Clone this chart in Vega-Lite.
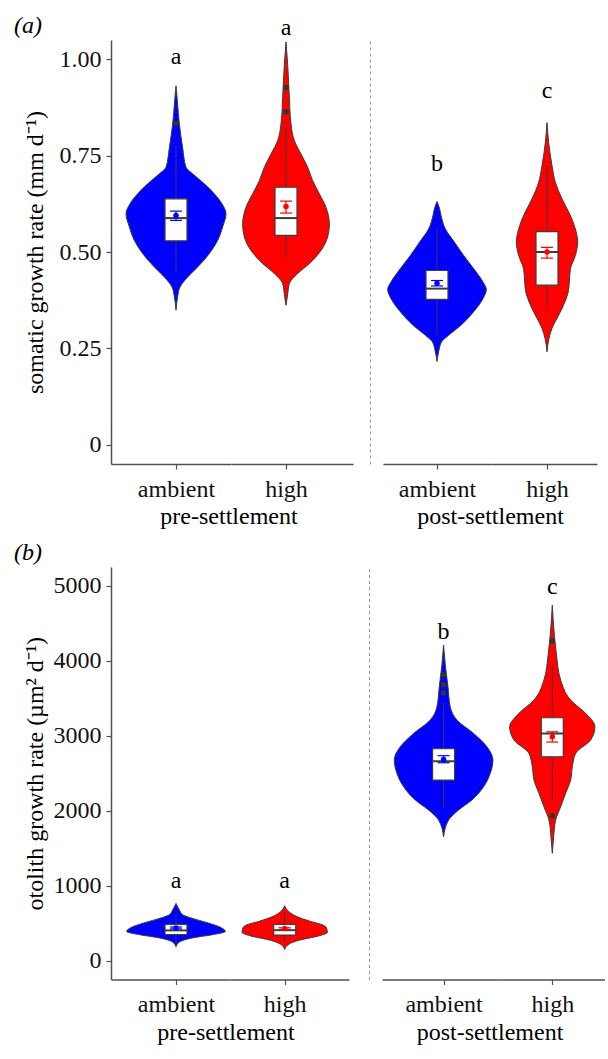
{
"$schema":"https://vega.github.io/schema/vega-lite/v6.json",
"padding":{"left":14,"top":13,"right":0,"bottom":0},
"data":{"values":[
{"p":"a","ph":"pre","g":"ambient","v":0.349,"d":0},
{"p":"a","ph":"pre","g":"ambient","v":0.384,"d":0.033},
{"p":"a","ph":"pre","g":"ambient","v":0.409,"d":0.08},
{"p":"a","ph":"pre","g":"ambient","v":0.435,"d":0.233},
{"p":"a","ph":"pre","g":"ambient","v":0.461,"d":0.433},
{"p":"a","ph":"pre","g":"ambient","v":0.496,"d":0.667},
{"p":"a","ph":"pre","g":"ambient","v":0.53,"d":0.833},
{"p":"a","ph":"pre","g":"ambient","v":0.565,"d":0.933},
{"p":"a","ph":"pre","g":"ambient","v":0.599,"d":1.0},
{"p":"a","ph":"pre","g":"ambient","v":0.625,"d":0.92},
{"p":"a","ph":"pre","g":"ambient","v":0.651,"d":0.767},
{"p":"a","ph":"pre","g":"ambient","v":0.677,"d":0.567},
{"p":"a","ph":"pre","g":"ambient","v":0.703,"d":0.333},
{"p":"a","ph":"pre","g":"ambient","v":0.72,"d":0.2},
{"p":"a","ph":"pre","g":"ambient","v":0.771,"d":0.133},
{"p":"a","ph":"pre","g":"ambient","v":0.832,"d":0.067},
{"p":"a","ph":"pre","g":"ambient","v":0.892,"d":0.027},
{"p":"a","ph":"pre","g":"ambient","v":0.931,"d":0},
{"p":"a","ph":"pre","g":"high","v":0.362,"d":0},
{"p":"a","ph":"pre","g":"high","v":0.384,"d":0.027},
{"p":"a","ph":"pre","g":"high","v":0.418,"d":0.067},
{"p":"a","ph":"pre","g":"high","v":0.444,"d":0.233},
{"p":"a","ph":"pre","g":"high","v":0.47,"d":0.467},
{"p":"a","ph":"pre","g":"high","v":0.504,"d":0.7},
{"p":"a","ph":"pre","g":"high","v":0.539,"d":0.833},
{"p":"a","ph":"pre","g":"high","v":0.573,"d":0.867},
{"p":"a","ph":"pre","g":"high","v":0.616,"d":0.8},
{"p":"a","ph":"pre","g":"high","v":0.651,"d":0.667},
{"p":"a","ph":"pre","g":"high","v":0.685,"d":0.533},
{"p":"a","ph":"pre","g":"high","v":0.72,"d":0.433},
{"p":"a","ph":"pre","g":"high","v":0.754,"d":0.3},
{"p":"a","ph":"pre","g":"high","v":0.789,"d":0.167},
{"p":"a","ph":"pre","g":"high","v":0.832,"d":0.1},
{"p":"a","ph":"pre","g":"high","v":0.901,"d":0.067},
{"p":"a","ph":"pre","g":"high","v":0.987,"d":0.033},
{"p":"a","ph":"pre","g":"high","v":1.045,"d":0},
{"p":"a","ph":"post","g":"ambient","v":0.216,"d":0},
{"p":"a","ph":"post","g":"ambient","v":0.241,"d":0.033},
{"p":"a","ph":"post","g":"ambient","v":0.267,"d":0.093},
{"p":"a","ph":"post","g":"ambient","v":0.284,"d":0.233},
{"p":"a","ph":"post","g":"ambient","v":0.31,"d":0.48},
{"p":"a","ph":"post","g":"ambient","v":0.345,"d":0.733},
{"p":"a","ph":"post","g":"ambient","v":0.379,"d":0.92},
{"p":"a","ph":"post","g":"ambient","v":0.403,"d":0.987},
{"p":"a","ph":"post","g":"ambient","v":0.422,"d":0.92},
{"p":"a","ph":"post","g":"ambient","v":0.457,"d":0.733},
{"p":"a","ph":"post","g":"ambient","v":0.491,"d":0.533},
{"p":"a","ph":"post","g":"ambient","v":0.526,"d":0.347},
{"p":"a","ph":"post","g":"ambient","v":0.56,"d":0.167},
{"p":"a","ph":"post","g":"ambient","v":0.595,"d":0.08},
{"p":"a","ph":"post","g":"ambient","v":0.615,"d":0.047},
{"p":"a","ph":"post","g":"ambient","v":0.631,"d":0},
{"p":"a","ph":"post","g":"high","v":0.241,"d":0},
{"p":"a","ph":"post","g":"high","v":0.276,"d":0.04},
{"p":"a","ph":"post","g":"high","v":0.302,"d":0.1},
{"p":"a","ph":"post","g":"high","v":0.336,"d":0.233},
{"p":"a","ph":"post","g":"high","v":0.371,"d":0.36},
{"p":"a","ph":"post","g":"high","v":0.4,"d":0.43},
{"p":"a","ph":"post","g":"high","v":0.43,"d":0.45},
{"p":"a","ph":"post","g":"high","v":0.457,"d":0.47},
{"p":"a","ph":"post","g":"high","v":0.491,"d":0.567},
{"p":"a","ph":"post","g":"high","v":0.526,"d":0.613},
{"p":"a","ph":"post","g":"high","v":0.56,"d":0.567},
{"p":"a","ph":"post","g":"high","v":0.595,"d":0.467},
{"p":"a","ph":"post","g":"high","v":0.638,"d":0.3},
{"p":"a","ph":"post","g":"high","v":0.681,"d":0.167},
{"p":"a","ph":"post","g":"high","v":0.724,"d":0.1},
{"p":"a","ph":"post","g":"high","v":0.784,"d":0.033},
{"p":"a","ph":"post","g":"high","v":0.836,"d":0},
{"p":"b","ph":"pre","g":"ambient","v":185,"d":0},
{"p":"b","ph":"pre","g":"ambient","v":249,"d":0.067},
{"p":"b","ph":"pre","g":"ambient","v":305,"d":0.333},
{"p":"b","ph":"pre","g":"ambient","v":348,"d":0.733},
{"p":"b","ph":"pre","g":"ambient","v":391,"d":0.987},
{"p":"b","ph":"pre","g":"ambient","v":442,"d":0.9},
{"p":"b","ph":"pre","g":"ambient","v":506,"d":0.633},
{"p":"b","ph":"pre","g":"ambient","v":571,"d":0.3},
{"p":"b","ph":"pre","g":"ambient","v":614,"d":0.133},
{"p":"b","ph":"pre","g":"ambient","v":678,"d":0.067},
{"p":"b","ph":"pre","g":"ambient","v":764,"d":0},
{"p":"b","ph":"pre","g":"high","v":150,"d":0},
{"p":"b","ph":"pre","g":"high","v":219,"d":0.08},
{"p":"b","ph":"pre","g":"high","v":270,"d":0.267},
{"p":"b","ph":"pre","g":"high","v":335,"d":0.7},
{"p":"b","ph":"pre","g":"high","v":378,"d":0.853},
{"p":"b","ph":"pre","g":"high","v":442,"d":0.833},
{"p":"b","ph":"pre","g":"high","v":476,"d":0.767},
{"p":"b","ph":"pre","g":"high","v":528,"d":0.5},
{"p":"b","ph":"pre","g":"high","v":592,"d":0.233},
{"p":"b","ph":"pre","g":"high","v":657,"d":0.08},
{"p":"b","ph":"pre","g":"high","v":734,"d":0},
{"p":"b","ph":"post","g":"ambient","v":1654,"d":0},
{"p":"b","ph":"post","g":"ambient","v":1876,"d":0.1},
{"p":"b","ph":"post","g":"ambient","v":2009,"d":0.3},
{"p":"b","ph":"post","g":"ambient","v":2143,"d":0.567},
{"p":"b","ph":"post","g":"ambient","v":2320,"d":0.8},
{"p":"b","ph":"post","g":"ambient","v":2498,"d":0.933},
{"p":"b","ph":"post","g":"ambient","v":2676,"d":0.987},
{"p":"b","ph":"post","g":"ambient","v":2853,"d":0.867},
{"p":"b","ph":"post","g":"ambient","v":3031,"d":0.6},
{"p":"b","ph":"post","g":"ambient","v":3209,"d":0.267},
{"p":"b","ph":"post","g":"ambient","v":3387,"d":0.133},
{"p":"b","ph":"post","g":"ambient","v":3653,"d":0.087},
{"p":"b","ph":"post","g":"ambient","v":3952,"d":0.033},
{"p":"b","ph":"post","g":"ambient","v":4209,"d":0},
{"p":"b","ph":"post","g":"high","v":1432,"d":0},
{"p":"b","ph":"post","g":"high","v":1654,"d":0.027},
{"p":"b","ph":"post","g":"high","v":1876,"d":0.067},
{"p":"b","ph":"post","g":"high","v":2053,"d":0.167},
{"p":"b","ph":"post","g":"high","v":2232,"d":0.267},
{"p":"b","ph":"post","g":"high","v":2409,"d":0.367},
{"p":"b","ph":"post","g":"high","v":2587,"d":0.4},
{"p":"b","ph":"post","g":"high","v":2765,"d":0.467},
{"p":"b","ph":"post","g":"high","v":2943,"d":0.767},
{"p":"b","ph":"post","g":"high","v":3120,"d":0.853},
{"p":"b","ph":"post","g":"high","v":3299,"d":0.667},
{"p":"b","ph":"post","g":"high","v":3476,"d":0.367},
{"p":"b","ph":"post","g":"high","v":3743,"d":0.167},
{"p":"b","ph":"post","g":"high","v":4098,"d":0.08},
{"p":"b","ph":"post","g":"high","v":4409,"d":0.033},
{"p":"b","ph":"post","g":"high","v":4743,"d":0},
{"p":"a","ph":"pre","g":"ambient","q1":0.529,"med":0.588,"q3":0.638,"lo":0.448,"hi":0.776,"mean":0.595,"selo":0.582,"sehi":0.606,"let":"a","ly":1.006},
{"p":"a","ph":"pre","g":"high","q1":0.543,"med":0.588,"q3":0.668,"lo":0.487,"hi":0.825,"mean":0.618,"selo":0.601,"sehi":0.632,"let":"a","ly":1.082},
{"p":"a","ph":"post","g":"ambient","q1":0.377,"med":0.405,"q3":0.452,"lo":0.284,"hi":0.56,"mean":0.419,"selo":0.412,"sehi":0.426,"let":"b","ly":0.728},
{"p":"a","ph":"post","g":"high","q1":0.414,"med":0.5,"q3":0.553,"lo":0.358,"hi":0.72,"mean":0.5,"selo":0.484,"sehi":0.512,"let":"c","ly":0.918},
{"p":"b","ph":"pre","g":"ambient","q1":348,"med":405,"q3":485,"lo":227,"hi":635,"mean":438,"selo":425,"sehi":450,"let":"a","ly":1060},
{"p":"b","ph":"pre","g":"high","q1":343,"med":408,"q3":485,"lo":249,"hi":657,"mean":429,"selo":418,"sehi":440,"let":"a","ly":1060},
{"p":"b","ph":"post","g":"ambient","q1":2409,"med":2660,"q3":2827,"lo":2045,"hi":3440,"mean":2685,"selo":2640,"sehi":2734,"let":"b","ly":4387},
{"p":"b","ph":"post","g":"high","q1":2720,"med":3030,"q3":3240,"lo":2143,"hi":3920,"mean":2987,"selo":2916,"sehi":3053,"let":"c","ly":4987},
{"p":"a","ph":"pre","g":"ambient","o":0.834},
{"p":"a","ph":"pre","g":"high","o":0.927},
{"p":"a","ph":"pre","g":"high","o":0.864},
{"p":"b","ph":"post","g":"ambient","o":3818},
{"p":"b","ph":"post","g":"ambient","o":3680},
{"p":"b","ph":"post","g":"ambient","o":3573},
{"p":"b","ph":"post","g":"high","o":4263},
{"p":"b","ph":"post","g":"high","o":1933}
]},
"spacing":12,
"vconcat":[
{"title":{"text":"(a)","anchor":"start","fontStyle":"italic","offset":-22,"dx":-9},
 "spacing":17,
 "hconcat":[
  {"title":{"text":"pre-settlement","orient":"bottom","anchor":"middle","dx":41,"offset":4},"spacing":0,
   "hconcat":[
    {"width":120,"height":424,
     "transform":[{"filter":"datum.p==='a'&&datum.ph==='pre'&&datum.g==='ambient'"}],
     "layer":[
      {"transform":[{"filter":"isValid(datum.d)"}],
       "mark":{"type":"area","orient":"horizontal","interpolate":"monotone","fill":"#0000ff","stroke":"#3c3c3c","strokeWidth":1},
       "encoding":{
        "y":{"field":"v","type":"quantitative","scale":{"domain":[-0.05,1.05],"nice":false,"zero":false},"axis":{"values":[0,0.25,0.5,0.75,1],"labelExpr":"datum.value===0?'0':format(datum.value,'.2f')","title":"somatic growth rate (mm d⁻¹)","titlePadding":12}},
        "x":{"field":"d","type":"quantitative","stack":"center","impute":null,"scale":{"domain":[-0.15,1.05],"nice":false,"zero":false},"axis":{"values":[0.5],"labelExpr":"'ambient'","title":null,"labelPadding":8}}}},
      {"mark":{"type":"rule","color":"#3c3c3c","strokeWidth":1},"encoding":{"x":{"datum":0.5,"type":"quantitative"},"y":{"field":"lo","type":"quantitative"},"y2":{"field":"hi"}}},
      {"mark":{"type":"rect","fill":"#ffffff","stroke":"#3c3c3c","strokeWidth":1.2},"encoding":{"x":{"datum":0.39,"type":"quantitative"},"x2":{"datum":0.61},"y":{"field":"q1","type":"quantitative"},"y2":{"field":"q3"}}},
      {"mark":{"type":"rule","color":"#3c3c3c","strokeWidth":2},"encoding":{"x":{"datum":0.39,"type":"quantitative"},"x2":{"datum":0.61},"y":{"field":"med","type":"quantitative"}}},
      {"mark":{"type":"point","filled":true,"color":"#333333","size":30,"opacity":1},"encoding":{"x":{"datum":0.5,"type":"quantitative"},"y":{"field":"o","type":"quantitative"}}},
      {"mark":{"type":"rule","color":"#0000ff","strokeWidth":1.2},"encoding":{"x":{"datum":0.5,"type":"quantitative"},"y":{"field":"selo","type":"quantitative"},"y2":{"field":"sehi"}}},
      {"mark":{"type":"rule","color":"#0000ff","strokeWidth":1.2},"encoding":{"x":{"datum":0.44,"type":"quantitative"},"x2":{"datum":0.56},"y":{"field":"selo","type":"quantitative"}}},
      {"mark":{"type":"rule","color":"#0000ff","strokeWidth":1.2},"encoding":{"x":{"datum":0.44,"type":"quantitative"},"x2":{"datum":0.56},"y":{"field":"sehi","type":"quantitative"}}},
      {"mark":{"type":"point","filled":true,"color":"#0000ff","size":30,"opacity":1},"encoding":{"x":{"datum":0.5,"type":"quantitative"},"y":{"field":"mean","type":"quantitative"}}},
      {"mark":{"type":"text","fontSize":24,"baseline":"middle","align":"center"},"encoding":{"x":{"datum":0.5,"type":"quantitative"},"y":{"field":"ly","type":"quantitative"},"text":{"field":"let","type":"nominal"}}}
     ]},
    {"width":122,"height":424,
     "transform":[{"filter":"datum.p==='a'&&datum.ph==='pre'&&datum.g==='high'"}],
     "layer":[
      {"transform":[{"filter":"isValid(datum.d)"}],
       "mark":{"type":"area","orient":"horizontal","interpolate":"monotone","fill":"#ff0000","stroke":"#3c3c3c","strokeWidth":1},
       "encoding":{
        "y":{"field":"v","type":"quantitative","scale":{"domain":[-0.05,1.05],"nice":false,"zero":false},"axis":null},
        "x":{"field":"d","type":"quantitative","stack":"center","impute":null,"scale":{"domain":[-0.1165,1.1035],"nice":false,"zero":false},"axis":{"values":[0.4335],"labelExpr":"'high'","title":null,"labelPadding":8}}}},
      {"mark":{"type":"rule","color":"#3c3c3c","strokeWidth":1},"encoding":{"x":{"datum":0.4335,"type":"quantitative"},"y":{"field":"lo","type":"quantitative"},"y2":{"field":"hi"}}},
      {"mark":{"type":"rect","fill":"#ffffff","stroke":"#3c3c3c","strokeWidth":1.2},"encoding":{"x":{"datum":0.3235,"type":"quantitative"},"x2":{"datum":0.5435},"y":{"field":"q1","type":"quantitative"},"y2":{"field":"q3"}}},
      {"mark":{"type":"rule","color":"#3c3c3c","strokeWidth":2},"encoding":{"x":{"datum":0.3235,"type":"quantitative"},"x2":{"datum":0.5435},"y":{"field":"med","type":"quantitative"}}},
      {"mark":{"type":"point","filled":true,"color":"#333333","size":30,"opacity":1},"encoding":{"x":{"datum":0.4335,"type":"quantitative"},"y":{"field":"o","type":"quantitative"}}},
      {"mark":{"type":"rule","color":"#ff0000","strokeWidth":1.2},"encoding":{"x":{"datum":0.4335,"type":"quantitative"},"y":{"field":"selo","type":"quantitative"},"y2":{"field":"sehi"}}},
      {"mark":{"type":"rule","color":"#ff0000","strokeWidth":1.2},"encoding":{"x":{"datum":0.3735,"type":"quantitative"},"x2":{"datum":0.4935},"y":{"field":"selo","type":"quantitative"}}},
      {"mark":{"type":"rule","color":"#ff0000","strokeWidth":1.2},"encoding":{"x":{"datum":0.3735,"type":"quantitative"},"x2":{"datum":0.4935},"y":{"field":"sehi","type":"quantitative"}}},
      {"mark":{"type":"point","filled":true,"color":"#ff0000","size":30,"opacity":1},"encoding":{"x":{"datum":0.4335,"type":"quantitative"},"y":{"field":"mean","type":"quantitative"}}},
      {"mark":{"type":"text","fontSize":24,"baseline":"middle","align":"center"},"encoding":{"x":{"datum":0.4335,"type":"quantitative"},"y":{"field":"ly","type":"quantitative"},"text":{"field":"let","type":"nominal"}}}
     ]}
   ]},
  {"title":{"text":"post-settlement","orient":"bottom","anchor":"middle","dx":7,"offset":4},"spacing":0,
   "hconcat":[
    {"width":109,"height":424,
     "transform":[{"filter":"datum.p==='a'&&datum.ph==='post'&&datum.g==='ambient'"}],
     "layer":[
      {"transform":[{"filter":"isValid(datum.d)"}],
       "mark":{"type":"area","orient":"horizontal","interpolate":"monotone","fill":"#0000ff","stroke":"#3c3c3c","strokeWidth":1},
       "encoding":{
        "y":{"field":"v","type":"quantitative","scale":{"domain":[-0.05,1.05],"nice":false,"zero":false},"axis":{"labels":false,"ticks":false,"title":null,"domainDash":[3,3],"domainColor":"#9a9a9a","domainWidth":1,"offset":13}},
        "x":{"field":"d","type":"quantitative","stack":"center","impute":null,"scale":{"domain":[-0.0465,1.0435],"nice":false,"zero":false},"axis":{"values":[0.4935],"labelExpr":"'ambient'","title":null,"labelPadding":8}}}},
      {"mark":{"type":"rule","color":"#3c3c3c","strokeWidth":1},"encoding":{"x":{"datum":0.4935,"type":"quantitative"},"y":{"field":"lo","type":"quantitative"},"y2":{"field":"hi"}}},
      {"mark":{"type":"rect","fill":"#ffffff","stroke":"#3c3c3c","strokeWidth":1.2},"encoding":{"x":{"datum":0.3835,"type":"quantitative"},"x2":{"datum":0.6035},"y":{"field":"q1","type":"quantitative"},"y2":{"field":"q3"}}},
      {"mark":{"type":"rule","color":"#3c3c3c","strokeWidth":2},"encoding":{"x":{"datum":0.3835,"type":"quantitative"},"x2":{"datum":0.6035},"y":{"field":"med","type":"quantitative"}}},
      {"mark":{"type":"point","filled":true,"color":"#333333","size":30,"opacity":1},"encoding":{"x":{"datum":0.4935,"type":"quantitative"},"y":{"field":"o","type":"quantitative"}}},
      {"mark":{"type":"rule","color":"#0000ff","strokeWidth":1.2},"encoding":{"x":{"datum":0.4935,"type":"quantitative"},"y":{"field":"selo","type":"quantitative"},"y2":{"field":"sehi"}}},
      {"mark":{"type":"rule","color":"#0000ff","strokeWidth":1.2},"encoding":{"x":{"datum":0.4335,"type":"quantitative"},"x2":{"datum":0.5535},"y":{"field":"selo","type":"quantitative"}}},
      {"mark":{"type":"rule","color":"#0000ff","strokeWidth":1.2},"encoding":{"x":{"datum":0.4335,"type":"quantitative"},"x2":{"datum":0.5535},"y":{"field":"sehi","type":"quantitative"}}},
      {"mark":{"type":"point","filled":true,"color":"#0000ff","size":30,"opacity":1},"encoding":{"x":{"datum":0.4935,"type":"quantitative"},"y":{"field":"mean","type":"quantitative"}}},
      {"mark":{"type":"text","fontSize":24,"baseline":"middle","align":"center"},"encoding":{"x":{"datum":0.4935,"type":"quantitative"},"y":{"field":"ly","type":"quantitative"},"text":{"field":"let","type":"nominal"}}}
     ]},
    {"width":105,"height":424,
     "transform":[{"filter":"datum.p==='a'&&datum.ph==='post'&&datum.g==='high'"}],
     "layer":[
      {"transform":[{"filter":"isValid(datum.d)"}],
       "mark":{"type":"area","orient":"horizontal","interpolate":"monotone","fill":"#ff0000","stroke":"#3c3c3c","strokeWidth":1},
       "encoding":{
        "y":{"field":"v","type":"quantitative","scale":{"domain":[-0.05,1.05],"nice":false,"zero":false},"axis":null},
        "x":{"field":"d","type":"quantitative","stack":"center","impute":null,"scale":{"domain":[-0.2435,0.8065],"nice":false,"zero":false},"axis":{"values":[0.3065],"labelExpr":"'high'","title":null,"labelPadding":8}}}},
      {"mark":{"type":"rule","color":"#3c3c3c","strokeWidth":1},"encoding":{"x":{"datum":0.3065,"type":"quantitative"},"y":{"field":"lo","type":"quantitative"},"y2":{"field":"hi"}}},
      {"mark":{"type":"rect","fill":"#ffffff","stroke":"#3c3c3c","strokeWidth":1.2},"encoding":{"x":{"datum":0.1965,"type":"quantitative"},"x2":{"datum":0.4165},"y":{"field":"q1","type":"quantitative"},"y2":{"field":"q3"}}},
      {"mark":{"type":"rule","color":"#3c3c3c","strokeWidth":2},"encoding":{"x":{"datum":0.1965,"type":"quantitative"},"x2":{"datum":0.4165},"y":{"field":"med","type":"quantitative"}}},
      {"mark":{"type":"point","filled":true,"color":"#333333","size":30,"opacity":1},"encoding":{"x":{"datum":0.3065,"type":"quantitative"},"y":{"field":"o","type":"quantitative"}}},
      {"mark":{"type":"rule","color":"#ff0000","strokeWidth":1.2},"encoding":{"x":{"datum":0.3065,"type":"quantitative"},"y":{"field":"selo","type":"quantitative"},"y2":{"field":"sehi"}}},
      {"mark":{"type":"rule","color":"#ff0000","strokeWidth":1.2},"encoding":{"x":{"datum":0.2465,"type":"quantitative"},"x2":{"datum":0.3665},"y":{"field":"selo","type":"quantitative"}}},
      {"mark":{"type":"rule","color":"#ff0000","strokeWidth":1.2},"encoding":{"x":{"datum":0.2465,"type":"quantitative"},"x2":{"datum":0.3665},"y":{"field":"sehi","type":"quantitative"}}},
      {"mark":{"type":"point","filled":true,"color":"#ff0000","size":30,"opacity":1},"encoding":{"x":{"datum":0.3065,"type":"quantitative"},"y":{"field":"mean","type":"quantitative"}}},
      {"mark":{"type":"text","fontSize":24,"baseline":"middle","align":"center"},"encoding":{"x":{"datum":0.3065,"type":"quantitative"},"y":{"field":"ly","type":"quantitative"},"text":{"field":"let","type":"nominal"}}}
     ]}
   ]}
 ]},
{"title":{"text":"(b)","anchor":"start","fontStyle":"italic","offset":2,"dx":-9},
 "spacing":20,
 "hconcat":[
  {"title":{"text":"pre-settlement","orient":"bottom","anchor":"middle","dx":40,"offset":4},"spacing":0,
   "hconcat":[
    {"width":119,"height":412.5,
     "transform":[{"filter":"datum.p==='b'&&datum.ph==='pre'&&datum.g==='ambient'"}],
     "layer":[
      {"transform":[{"filter":"isValid(datum.d)"}],
       "mark":{"type":"area","orient":"horizontal","interpolate":"monotone","fill":"#0000ff","stroke":"#3c3c3c","strokeWidth":1},
       "encoding":{
        "y":{"field":"v","type":"quantitative","scale":{"domain":[-250,5250],"nice":false,"zero":false},"axis":{"values":[0,1000,2000,3000,4000,5000],"format":"d","title":"otolith growth rate (µm² d⁻¹)","titlePadding":6}},
        "x":{"field":"d","type":"quantitative","stack":"center","impute":null,"scale":{"domain":[-0.1565,1.0335],"nice":false,"zero":false},"axis":{"values":[0.4935],"labelExpr":"'ambient'","title":null,"labelPadding":8}}}},
      {"mark":{"type":"rule","color":"#3c3c3c","strokeWidth":1},"encoding":{"x":{"datum":0.4935,"type":"quantitative"},"y":{"field":"lo","type":"quantitative"},"y2":{"field":"hi"}}},
      {"mark":{"type":"rect","fill":"#ffffff","stroke":"#3c3c3c","strokeWidth":1.2},"encoding":{"x":{"datum":0.3835,"type":"quantitative"},"x2":{"datum":0.6035},"y":{"field":"q1","type":"quantitative"},"y2":{"field":"q3"}}},
      {"mark":{"type":"rule","color":"#3c3c3c","strokeWidth":2},"encoding":{"x":{"datum":0.3835,"type":"quantitative"},"x2":{"datum":0.6035},"y":{"field":"med","type":"quantitative"}}},
      {"mark":{"type":"point","filled":true,"color":"#333333","size":30,"opacity":1},"encoding":{"x":{"datum":0.4935,"type":"quantitative"},"y":{"field":"o","type":"quantitative"}}},
      {"mark":{"type":"rule","color":"#0000ff","strokeWidth":1.2},"encoding":{"x":{"datum":0.4935,"type":"quantitative"},"y":{"field":"selo","type":"quantitative"},"y2":{"field":"sehi"}}},
      {"mark":{"type":"rule","color":"#0000ff","strokeWidth":1.2},"encoding":{"x":{"datum":0.4335,"type":"quantitative"},"x2":{"datum":0.5535},"y":{"field":"selo","type":"quantitative"}}},
      {"mark":{"type":"rule","color":"#0000ff","strokeWidth":1.2},"encoding":{"x":{"datum":0.4335,"type":"quantitative"},"x2":{"datum":0.5535},"y":{"field":"sehi","type":"quantitative"}}},
      {"mark":{"type":"point","filled":true,"color":"#0000ff","size":30,"opacity":1},"encoding":{"x":{"datum":0.4935,"type":"quantitative"},"y":{"field":"mean","type":"quantitative"}}},
      {"mark":{"type":"text","fontSize":24,"baseline":"middle","align":"center"},"encoding":{"x":{"datum":0.4935,"type":"quantitative"},"y":{"field":"ly","type":"quantitative"},"text":{"field":"let","type":"nominal"}}}
     ]},
    {"width":119,"height":412.5,
     "transform":[{"filter":"datum.p==='b'&&datum.ph==='pre'&&datum.g==='high'"}],
     "layer":[
      {"transform":[{"filter":"isValid(datum.d)"}],
       "mark":{"type":"area","orient":"horizontal","interpolate":"monotone","fill":"#ff0000","stroke":"#3c3c3c","strokeWidth":1},
       "encoding":{
        "y":{"field":"v","type":"quantitative","scale":{"domain":[-250,5250],"nice":false,"zero":false},"axis":null},
        "x":{"field":"d","type":"quantitative","stack":"center","impute":null,"scale":{"domain":[-0.1205,1.0695],"nice":false,"zero":false},"axis":{"values":[0.4265],"labelExpr":"'high'","title":null,"labelPadding":8}}}},
      {"mark":{"type":"rule","color":"#3c3c3c","strokeWidth":1},"encoding":{"x":{"datum":0.4265,"type":"quantitative"},"y":{"field":"lo","type":"quantitative"},"y2":{"field":"hi"}}},
      {"mark":{"type":"rect","fill":"#ffffff","stroke":"#3c3c3c","strokeWidth":1.2},"encoding":{"x":{"datum":0.3165,"type":"quantitative"},"x2":{"datum":0.5365},"y":{"field":"q1","type":"quantitative"},"y2":{"field":"q3"}}},
      {"mark":{"type":"rule","color":"#3c3c3c","strokeWidth":2},"encoding":{"x":{"datum":0.3165,"type":"quantitative"},"x2":{"datum":0.5365},"y":{"field":"med","type":"quantitative"}}},
      {"mark":{"type":"point","filled":true,"color":"#333333","size":30,"opacity":1},"encoding":{"x":{"datum":0.4265,"type":"quantitative"},"y":{"field":"o","type":"quantitative"}}},
      {"mark":{"type":"rule","color":"#ff0000","strokeWidth":1.2},"encoding":{"x":{"datum":0.4265,"type":"quantitative"},"y":{"field":"selo","type":"quantitative"},"y2":{"field":"sehi"}}},
      {"mark":{"type":"rule","color":"#ff0000","strokeWidth":1.2},"encoding":{"x":{"datum":0.3665,"type":"quantitative"},"x2":{"datum":0.4865},"y":{"field":"selo","type":"quantitative"}}},
      {"mark":{"type":"rule","color":"#ff0000","strokeWidth":1.2},"encoding":{"x":{"datum":0.3665,"type":"quantitative"},"x2":{"datum":0.4865},"y":{"field":"sehi","type":"quantitative"}}},
      {"mark":{"type":"point","filled":true,"color":"#ff0000","size":30,"opacity":1},"encoding":{"x":{"datum":0.4265,"type":"quantitative"},"y":{"field":"mean","type":"quantitative"}}},
      {"mark":{"type":"text","fontSize":24,"baseline":"middle","align":"center"},"encoding":{"x":{"datum":0.4265,"type":"quantitative"},"y":{"field":"ly","type":"quantitative"},"text":{"field":"let","type":"nominal"}}}
     ]}
   ]},
  {"title":{"text":"post-settlement","orient":"bottom","anchor":"middle","dx":3,"offset":4},"spacing":0,
   "hconcat":[
    {"width":116,"height":412.5,
     "transform":[{"filter":"datum.p==='b'&&datum.ph==='post'&&datum.g==='ambient'"}],
     "layer":[
      {"transform":[{"filter":"isValid(datum.d)"}],
       "mark":{"type":"area","orient":"horizontal","interpolate":"monotone","fill":"#0000ff","stroke":"#3c3c3c","strokeWidth":1},
       "encoding":{
        "y":{"field":"v","type":"quantitative","scale":{"domain":[-250,5250],"nice":false,"zero":false},"axis":{"labels":false,"ticks":false,"title":null,"domainDash":[3,3],"domainColor":"#9a9a9a","domainWidth":1,"offset":13}},
        "x":{"field":"d","type":"quantitative","stack":"center","impute":null,"scale":{"domain":[-0.1225,1.0375],"nice":false,"zero":false},"axis":{"values":[0.4935],"labelExpr":"'ambient'","title":null,"labelPadding":8}}}},
      {"mark":{"type":"rule","color":"#3c3c3c","strokeWidth":1},"encoding":{"x":{"datum":0.4935,"type":"quantitative"},"y":{"field":"lo","type":"quantitative"},"y2":{"field":"hi"}}},
      {"mark":{"type":"rect","fill":"#ffffff","stroke":"#3c3c3c","strokeWidth":1.2},"encoding":{"x":{"datum":0.3835,"type":"quantitative"},"x2":{"datum":0.6035},"y":{"field":"q1","type":"quantitative"},"y2":{"field":"q3"}}},
      {"mark":{"type":"rule","color":"#3c3c3c","strokeWidth":2},"encoding":{"x":{"datum":0.3835,"type":"quantitative"},"x2":{"datum":0.6035},"y":{"field":"med","type":"quantitative"}}},
      {"mark":{"type":"point","filled":true,"color":"#333333","size":30,"opacity":1},"encoding":{"x":{"datum":0.4935,"type":"quantitative"},"y":{"field":"o","type":"quantitative"}}},
      {"mark":{"type":"rule","color":"#0000ff","strokeWidth":1.2},"encoding":{"x":{"datum":0.4935,"type":"quantitative"},"y":{"field":"selo","type":"quantitative"},"y2":{"field":"sehi"}}},
      {"mark":{"type":"rule","color":"#0000ff","strokeWidth":1.2},"encoding":{"x":{"datum":0.4335,"type":"quantitative"},"x2":{"datum":0.5535},"y":{"field":"selo","type":"quantitative"}}},
      {"mark":{"type":"rule","color":"#0000ff","strokeWidth":1.2},"encoding":{"x":{"datum":0.4335,"type":"quantitative"},"x2":{"datum":0.5535},"y":{"field":"sehi","type":"quantitative"}}},
      {"mark":{"type":"point","filled":true,"color":"#0000ff","size":30,"opacity":1},"encoding":{"x":{"datum":0.4935,"type":"quantitative"},"y":{"field":"mean","type":"quantitative"}}},
      {"mark":{"type":"text","fontSize":24,"baseline":"middle","align":"center"},"encoding":{"x":{"datum":0.4935,"type":"quantitative"},"y":{"field":"ly","type":"quantitative"},"text":{"field":"let","type":"nominal"}}}
     ]},
    {"width":107,"height":412.5,
     "transform":[{"filter":"datum.p==='b'&&datum.ph==='post'&&datum.g==='high'"}],
     "layer":[
      {"transform":[{"filter":"isValid(datum.d)"}],
       "mark":{"type":"area","orient":"horizontal","interpolate":"monotone","fill":"#ff0000","stroke":"#3c3c3c","strokeWidth":1},
       "encoding":{
        "y":{"field":"v","type":"quantitative","scale":{"domain":[-250,5250],"nice":false,"zero":false},"axis":null},
        "x":{"field":"d","type":"quantitative","stack":"center","impute":null,"scale":{"domain":[-0.1165,0.9535],"nice":false,"zero":false},"axis":{"values":[0.4265],"labelExpr":"'high'","title":null,"labelPadding":8}}}},
      {"mark":{"type":"rule","color":"#3c3c3c","strokeWidth":1},"encoding":{"x":{"datum":0.4265,"type":"quantitative"},"y":{"field":"lo","type":"quantitative"},"y2":{"field":"hi"}}},
      {"mark":{"type":"rect","fill":"#ffffff","stroke":"#3c3c3c","strokeWidth":1.2},"encoding":{"x":{"datum":0.3165,"type":"quantitative"},"x2":{"datum":0.5365},"y":{"field":"q1","type":"quantitative"},"y2":{"field":"q3"}}},
      {"mark":{"type":"rule","color":"#3c3c3c","strokeWidth":2},"encoding":{"x":{"datum":0.3165,"type":"quantitative"},"x2":{"datum":0.5365},"y":{"field":"med","type":"quantitative"}}},
      {"mark":{"type":"point","filled":true,"color":"#333333","size":30,"opacity":1},"encoding":{"x":{"datum":0.4265,"type":"quantitative"},"y":{"field":"o","type":"quantitative"}}},
      {"mark":{"type":"rule","color":"#ff0000","strokeWidth":1.2},"encoding":{"x":{"datum":0.4265,"type":"quantitative"},"y":{"field":"selo","type":"quantitative"},"y2":{"field":"sehi"}}},
      {"mark":{"type":"rule","color":"#ff0000","strokeWidth":1.2},"encoding":{"x":{"datum":0.3665,"type":"quantitative"},"x2":{"datum":0.4865},"y":{"field":"selo","type":"quantitative"}}},
      {"mark":{"type":"rule","color":"#ff0000","strokeWidth":1.2},"encoding":{"x":{"datum":0.3665,"type":"quantitative"},"x2":{"datum":0.4865},"y":{"field":"sehi","type":"quantitative"}}},
      {"mark":{"type":"point","filled":true,"color":"#ff0000","size":30,"opacity":1},"encoding":{"x":{"datum":0.4265,"type":"quantitative"},"y":{"field":"mean","type":"quantitative"}}},
      {"mark":{"type":"text","fontSize":24,"baseline":"middle","align":"center"},"encoding":{"x":{"datum":0.4265,"type":"quantitative"},"y":{"field":"ly","type":"quantitative"},"text":{"field":"let","type":"nominal"}}}
     ]}
   ]}
 ]}
],
"config":{
 "view":{"stroke":null},
 "font":"Liberation Serif",
 "text":{"font":"Liberation Serif","color":"#000000"},
 "title":{"font":"Liberation Serif","fontSize":24,"fontWeight":"normal","color":"#000000"},
 "axis":{"grid":false,"domainColor":"#505050","domainWidth":1.5,"tickColor":"#505050","tickWidth":1.2,"tickSize":5,"labelFont":"Liberation Serif","labelFontSize":24,"labelColor":"#111111","labelFlush":false,"labelOverlap":false,"labelPadding":5,"titleFont":"Liberation Serif","titleFontSize":24,"titleFontWeight":"normal","titleColor":"#000000"}
}
}
